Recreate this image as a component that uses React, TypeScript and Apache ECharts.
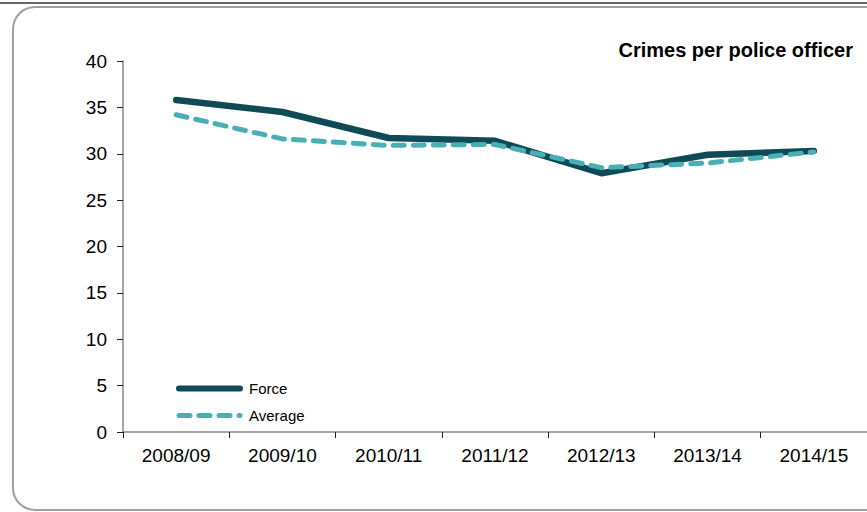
import React, { useEffect, useRef } from "react";
import * as echarts from "echarts";

const categories = ["2008/09", "2009/10", "2010/11", "2011/12", "2012/13", "2013/14", "2014/15"];
const forceValues = [35.8, 34.5, 31.7, 31.4, 27.9, 29.9, 30.3];
const averageValues = [34.2, 31.6, 30.9, 31.0, 28.5, 29.0, 30.2];
const yTicks = [0, 5, 10, 15, 20, 25, 30, 35, 40];
const titleText = "Crimes per police officer";

const FORCE_COLOR = "#0f4b56";
const AVG_COLOR = "#4aafb4";

export default function App() {
  const ref = useRef<HTMLDivElement>(null);
  useEffect(() => {
    const chart = echarts.init(ref.current!, null, { renderer: "svg" });
    chart.setOption({
      animation: false,
      backgroundColor: "#ffffff",
      textStyle: { fontFamily: "Liberation Sans, Arial, sans-serif" },
      graphic: [
        { type: "line", shape: { x1: 0, y1: 3, x2: 867, y2: 3 }, style: { stroke: "#333", lineWidth: 1.5 }, silent: true, z: -10 },
        { type: "rect", shape: { x: 13, y: 7, width: 900, height: 503, r: 22 }, style: { fill: "none", stroke: "#a0a0a0", lineWidth: 2 }, silent: true, z: -10 },
        { type: "text", x: 853, y: 50, style: { text: titleText, fontSize: 20, fontWeight: "bold", fill: "#000", textAlign: "right", textVerticalAlign: "middle", fontFamily: "Liberation Sans, Arial, sans-serif" } },
      ],
      legend: {
        orient: "vertical",
        left: 171,
        top: 376,
        itemWidth: 61,
        itemHeight: 14,
        itemGap: 12,
        itemStyle: { opacity: 0 },
        textStyle: { fontSize: 15, color: "#000", padding: [0, 0, 0, 4] },
        data: [
          { name: "Force", lineStyle: { color: FORCE_COLOR, width: 6, cap: "round" } },
          { name: "Average", lineStyle: { color: AVG_COLOR, width: 5, type: [11, 9], cap: "round" } },
        ],
      },
      grid: { left: 123, top: 61, width: 749, height: 371 },
      xAxis: {
        type: "category",
        data: categories,
        boundaryGap: true,
        axisLine: { lineStyle: { color: "#888", width: 1.5 } },
        axisTick: { show: true, length: 6, lineStyle: { color: "#222" } },
        axisLabel: { fontSize: 19, color: "#000", margin: 14 },
      },
      yAxis: {
        type: "value",
        min: 0,
        max: 40,
        interval: 5,
        splitLine: { show: false },
        axisLine: { show: true, lineStyle: { color: "#888", width: 1.5 } },
        axisTick: { show: true, length: 6, lineStyle: { color: "#222" } },
        axisLabel: { fontSize: 19, color: "#000", margin: 16, formatter: (v: number) => (yTicks.includes(v) ? String(v) : "") },
      },
      series: [
        {
          name: "Force",
          type: "line",
          data: forceValues,
          symbol: "none",
          color: FORCE_COLOR,
          lineStyle: { color: FORCE_COLOR, width: 6.5, cap: "round", join: "round" },
          z: 2,
        },
        {
          name: "Average",
          type: "line",
          data: averageValues,
          symbol: "none",
          color: AVG_COLOR,
          lineStyle: { color: AVG_COLOR, width: 5, type: [11, 9], cap: "round", join: "round" },
          z: 3,
        },
      ],
    });
    return () => chart.dispose();
  }, []);
  return <div ref={ref} style={{ position: "fixed", left: 0, top: 0, width: 867, height: 512 }} />;
}
